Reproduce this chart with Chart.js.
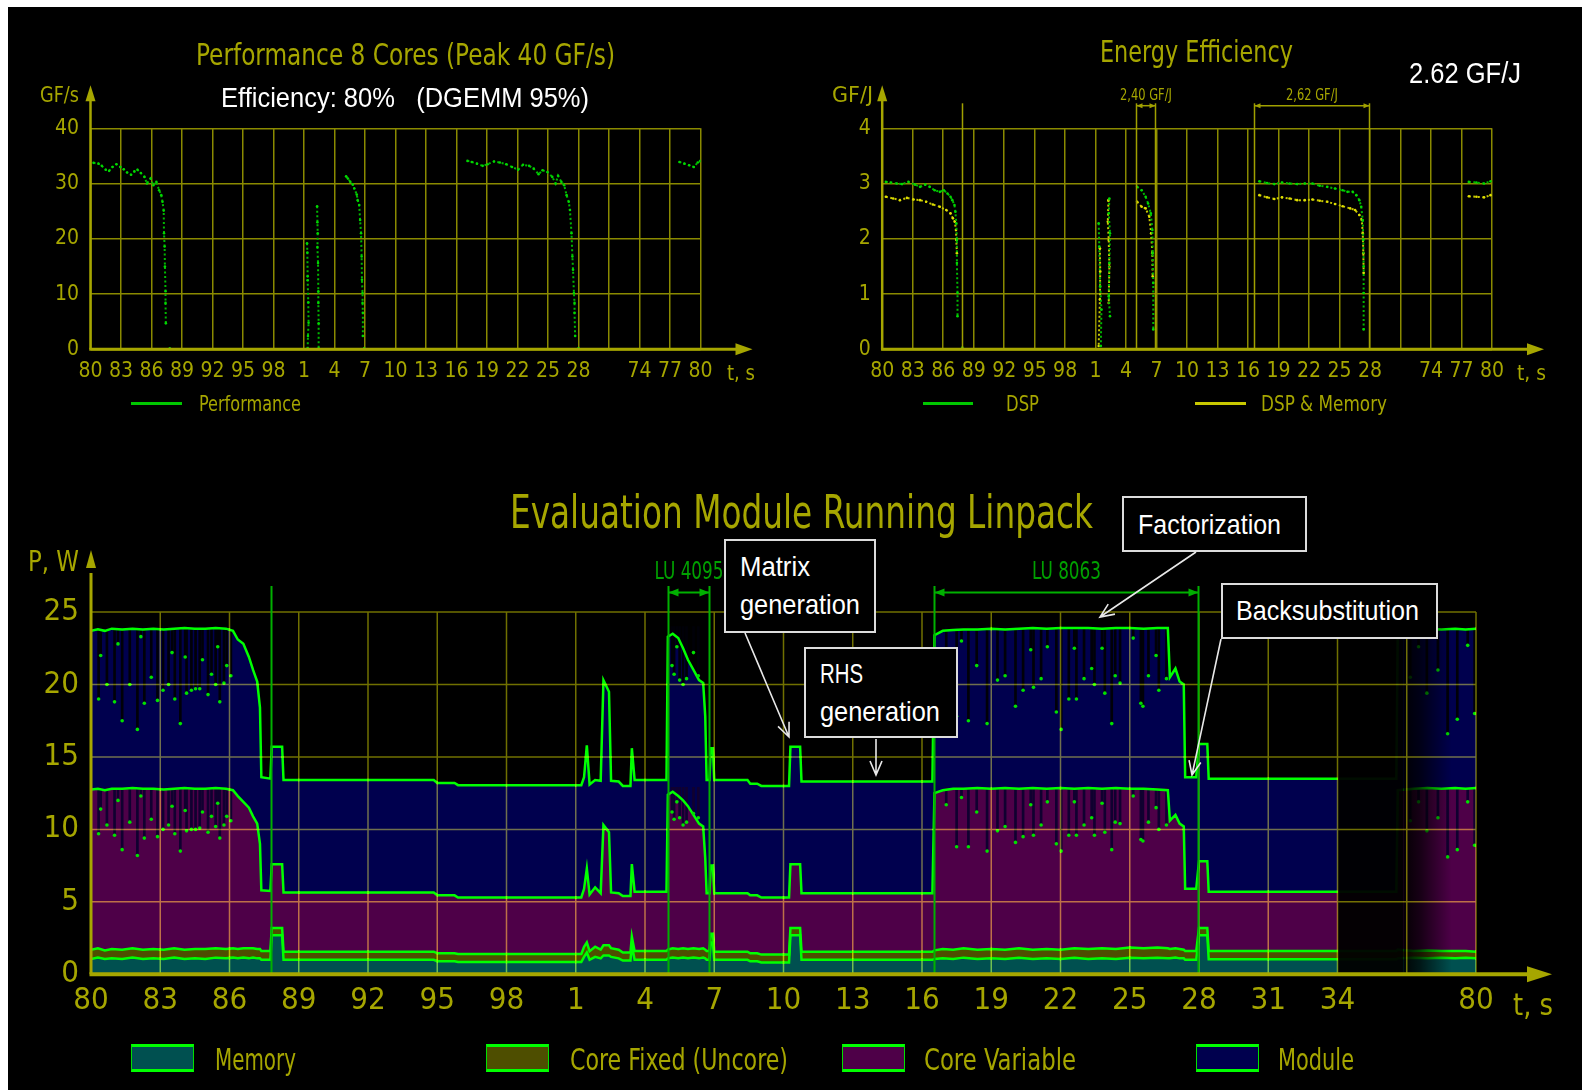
<!DOCTYPE html>
<html>
<head>
<meta charset="utf-8">
<script src="https://cdn.jsdelivr.net/npm/chart.js@4.4.1/dist/chart.umd.min.js"></script>
<style>
html,body{margin:0;padding:0;background:#fff;}
body{position:relative;width:1582px;height:1092px;overflow:hidden;}
#frame{position:absolute;left:8px;top:7px;width:1574px;height:1083px;background:#000;}
canvas{position:absolute;}
.t{position:absolute;white-space:pre;line-height:1;transform-origin:0 50%;}
.o{color:#a6a600;font-family:"DejaVu Sans Condensed","DejaVu Sans",sans-serif;}
.w{color:#fff;font-family:"Liberation Sans Narrow","Liberation Sans",Arial,sans-serif;}
.box{position:absolute;border:2px solid #dcdcdc;background:#000;box-sizing:border-box;}
.lg{position:absolute;box-sizing:border-box;border:1px solid #00e000;border-top:3px solid #00ff00;border-bottom:3px solid #00ff00;}
.ln{position:absolute;height:3px;}
svg{position:absolute;left:0;top:0;}
</style>
</head>
<body>
<div id="frame"></div>
<script>
// ---------------- DATA ----------------
const TOP_X_LABELS = ['80','83','86','89','92','95','98','1','4','7','10','13','16','19','22','25','28','','74','77','80'];
const BOTTOM_X_LABELS = ['80','83','86','89','92','95','98','1','4','7','10','13','16','19','22','25','28','31','34','','80'];

// Performance (GF/s); x in tick-index units; null = gap
const perfT = [0.10,0.26,0.37,0.50,0.61,0.72,0.85,0.98,1.09,1.20,1.33,1.44,1.54,1.65,1.77,1.85,1.97,2.06,2.16,2.25,2.32,2.36,2.40,2.41,2.43,2.44,2.46,2.46,2.47,null,
  2.60,null,
  7.10,7.11,7.12,7.12,7.14,7.15,7.13,7.12,null,
  7.43,7.44,7.45,7.44,7.46,7.47,7.47,7.48,7.48,null,
  8.38,8.44,8.52,8.60,8.65,8.73,8.76,8.81,8.84,8.87,8.89,8.90,8.92,8.92,8.93,8.93,null,
  8.97,null,
  12.36,12.50,12.67,12.86,13.02,13.23,13.42,13.63,13.82,14.02,14.18,14.38,14.53,14.69,14.82,14.98,15.14,15.25,15.33,15.44,15.53,15.61,15.68,15.72,15.77,15.80,15.82,15.85,15.87,15.87,15.89,null,
  16.00,null,
  19.31,19.47,19.63,19.78,19.91,20.00];
const perfV = [33.75,33.6,33.2,32.5,32.3,33.0,33.5,33.0,32.6,32.0,31.6,32.2,32.5,31.9,31.2,30.0,30.9,29.7,30.3,28.8,27.9,26.7,25.1,21.0,18.6,15.0,10.5,8.4,4.7,null,
  0.2,null,
  19.2,17.5,13.2,12.5,8.5,4.8,2.4,0.2,null,
  25.9,23.0,21.0,18.5,15.6,10.5,8.4,4.7,0.2,null,
  31.3,30.9,30.3,29.8,29.1,28.0,27.0,26.1,23.4,21.0,16.8,12.6,10.2,8.4,6.6,2.4,null,
  0.2,null,
  34.1,33.9,33.6,33.2,33.5,34.0,33.8,33.5,33.0,32.5,33.4,33.2,32.7,31.7,32.4,32.1,31.2,30.0,31.4,30.3,29.7,27.9,26.7,25.2,21.0,16.8,14.4,10.2,8.4,6.6,2.4,null,
  0.2,null,
  33.9,33.6,33.3,33.0,33.8,34.1];

// Energy efficiency (GF/J)
const dspT = [0.12,0.28,0.48,0.65,0.86,1.08,1.24,1.41,1.56,1.72,1.89,2.02,2.14,2.24,2.30,2.37,2.40,2.43,2.45,2.45,2.47,2.47,null,
  2.63,null,
  7.10,7.12,7.15,7.19,7.17,null,
  7.45,7.43,7.47,7.45,7.43,7.47,null,
  8.36,8.51,8.64,8.72,8.81,8.86,8.87,8.89,8.89,null,
  12.37,12.62,12.86,13.11,13.36,13.61,13.86,14.11,14.35,14.60,14.85,15.10,15.26,15.43,15.55,15.65,15.71,15.76,15.78,15.79,15.79,15.79,null,
  19.24,19.49,19.74,19.95];
const dspV = [3.03,3.02,3.00,2.99,3.03,2.98,2.94,2.98,2.94,2.88,2.85,2.88,2.82,2.76,2.70,2.61,2.49,2.28,1.98,1.56,1.02,0.60,null,
  0.03,null,
  2.28,1.86,1.14,0.72,0.06,null,
  2.73,2.46,2.10,1.56,0.96,0.60,null,
  2.94,2.88,2.76,2.64,2.46,2.16,1.74,1.20,0.36,null,
  3.04,3.01,2.99,3.02,3.00,2.99,3.00,3.00,2.96,2.94,2.91,2.88,2.85,2.85,2.79,2.70,2.58,2.34,1.98,1.50,1.02,0.36,null,
  3.03,3.02,3.00,3.04];
const dspMemT = [0.12,0.36,0.58,0.81,1.03,1.24,1.44,1.66,1.89,2.10,2.24,2.32,2.38,2.42,2.43,2.45,null,
  7.14,7.15,7.14,7.10,null,
  7.42,7.40,7.43,7.45,7.43,null,
  8.36,8.51,8.64,8.76,8.82,8.86,8.87,null,
  12.37,12.62,12.86,13.11,13.36,13.61,13.86,14.11,14.35,14.60,14.85,15.10,15.35,15.51,15.65,15.73,15.76,15.78,15.79,null,
  19.24,19.49,19.74,19.95];
const dspMemV = [2.76,2.73,2.70,2.74,2.71,2.70,2.67,2.62,2.58,2.52,2.46,2.37,2.31,2.16,1.98,1.74,null,
  1.83,1.41,0.90,0.06,null,
  2.70,2.31,1.98,1.50,0.84,null,
  2.67,2.58,2.55,2.40,2.10,1.74,1.32,null,
  2.79,2.75,2.72,2.75,2.73,2.70,2.70,2.71,2.69,2.67,2.63,2.59,2.55,2.52,2.43,2.34,2.10,1.74,1.38,null,
  2.77,2.76,2.75,2.79];

// Power (W): upper boundary of each stacked layer
const tB   = [0.00,0.10,0.20,0.30,0.45,0.60,0.75,0.90,1.05,1.20,1.35,1.50,1.65,1.80,1.95,2.05,2.12,2.20,2.28,2.34,2.40,2.44,2.46,2.59,
  2.61,2.76,2.78,4.95,5.00,5.25,5.30,7.08,7.12,7.16,7.20,7.28,7.36,7.40,7.48,7.51,7.62,7.68,7.79,7.81,7.85,8.31,
  8.33,8.40,8.48,8.55,8.62,8.70,8.78,8.84,8.87,8.89,8.93,8.95,8.98,9.00,9.48,9.52,9.62,9.68,10.08,10.10,10.24,10.26,12.15,
  12.18,12.30,12.45,12.60,12.80,13.00,13.20,13.40,13.60,13.80,14.00,14.20,14.40,14.60,14.80,15.00,15.20,15.40,15.55,
  15.58,15.66,15.72,15.78,15.80,15.96,16.00,16.12,16.14,18.85,
  18.87,19.10,19.30,19.50,19.70,19.85,20.00];
const memB = [1.05,1.15,1.05,1.10,1.05,1.15,1.05,1.10,1.05,1.15,1.05,1.10,1.05,1.15,1.10,1.15,1.10,1.15,1.10,1.15,1.10,1.10,1.00,1.00,
  2.7,2.7,1.0,1.0,0.9,0.9,0.85,0.85,1.2,1.5,1.0,1.2,1.1,1.3,1.3,1.2,1.1,0.95,0.95,2.0,1.0,1.0,
  1.1,1.15,1.1,1.15,1.1,1.15,1.1,1.15,1.1,1.0,1.0,2.2,2.2,1.0,1.0,0.9,0.9,0.82,0.82,2.7,2.7,1.0,1.0,
  1.05,1.1,1.05,1.15,1.05,1.1,1.05,1.15,1.05,1.1,1.05,1.15,1.05,1.1,1.05,1.15,1.1,1.15,1.1,
  1.1,1.15,1.1,1.1,1.0,1.0,2.7,2.7,1.03,1.03,
  1.1,1.15,1.1,1.15,1.1,1.15,1.1];
const fixB = [1.70,1.80,1.65,1.75,1.70,1.80,1.70,1.75,1.70,1.80,1.70,1.75,1.75,1.80,1.75,1.80,1.75,1.80,1.80,1.80,1.75,1.75,1.60,1.60,
  3.2,3.2,1.56,1.56,1.45,1.45,1.4,1.4,1.9,2.2,1.6,1.9,1.7,2.0,2.0,1.8,1.7,1.5,1.5,2.6,1.6,1.6,
  1.7,1.8,1.75,1.8,1.75,1.8,1.75,1.8,1.7,1.6,1.6,2.8,2.8,1.56,1.56,1.45,1.45,1.36,1.36,3.2,3.2,1.56,1.56,
  1.65,1.75,1.7,1.8,1.7,1.75,1.7,1.8,1.7,1.75,1.7,1.8,1.75,1.8,1.75,1.85,1.8,1.85,1.8,
  1.75,1.8,1.75,1.7,1.6,1.6,3.2,3.2,1.6,1.6,
  1.7,1.6,1.65,1.6,1.6,1.6,1.56];
const varB = [12.75,12.8,12.7,12.8,12.8,12.85,12.8,12.8,12.75,12.8,12.85,12.8,12.8,12.85,12.8,12.7,12.3,11.9,11.5,10.9,10.4,9.0,5.8,5.75,
  7.6,7.6,5.65,5.65,5.45,5.45,5.3,5.3,5.9,7.3,5.5,6.0,5.6,10.3,9.8,5.65,5.6,5.4,5.4,7.6,5.7,5.7,
  12.4,12.6,12.3,12.0,11.6,11.0,10.4,10.2,8.0,5.6,5.6,7.5,7.5,5.6,5.6,5.45,5.45,5.3,5.3,7.6,7.6,5.6,5.6,
  12.5,12.7,12.8,12.8,12.85,12.8,12.85,12.8,12.85,12.8,12.85,12.8,12.85,12.8,12.85,12.8,12.8,12.75,12.7,
  10.6,11.0,10.4,10.2,5.9,5.9,7.8,7.8,5.7,5.7,
  12.7,12.8,12.85,12.8,12.85,12.8,12.85];
const modB = [23.7,23.8,23.7,23.85,23.8,23.85,23.8,23.85,23.8,23.85,23.9,23.85,23.85,23.9,23.85,23.7,23.1,22.8,21.9,21.0,20.2,18.4,13.6,13.5,
  15.7,15.7,13.4,13.4,13.2,13.2,13.05,13.05,13.6,15.8,13.1,13.4,13.35,20.3,19.5,13.35,13.3,13.0,13.0,15.6,13.4,13.4,
  23.3,23.5,23.2,22.5,21.7,21.0,20.3,20.1,17.8,13.4,13.4,15.6,15.6,13.4,13.4,13.15,13.15,13.0,13.0,15.7,15.7,13.3,13.3,
  23.4,23.7,23.75,23.8,23.8,23.85,23.8,23.85,23.9,23.85,23.9,23.9,23.9,23.85,23.9,23.9,23.85,23.9,23.9,
  20.5,21.1,20.2,20.0,13.6,13.6,15.9,15.9,13.5,13.5,
  23.7,23.8,23.85,23.8,23.85,23.8,23.85];

// Short power drops during the runs (time, module level, core-variable level)
const dipT = [0.11,0.14,0.23,0.34,0.39,0.45,0.56,0.67,0.72,0.77,0.87,0.96,1.04,1.12,1.17,1.21,1.29,1.36,1.38,1.45,1.51,1.57,1.61,1.69,1.74,1.80,1.83,1.86,1.92,1.96,2.02,
  8.39,8.42,8.46,8.50,8.55,8.60,8.70,8.77,
  12.35,12.50,12.57,12.67,12.79,12.94,13.09,13.20,13.35,13.46,13.57,13.61,13.72,13.81,13.94,14.01,14.12,14.20,14.23,14.34,14.45,14.49,14.60,14.64,14.74,14.79,14.86,15.05,15.16,15.19,15.27,15.38,15.42,15.53,
  19.05,19.17,19.29,19.45,19.59,19.73,19.88,19.98];
const dipMod = [19.0,22.0,20.0,18.8,22.8,17.5,20.0,16.9,23.3,18.7,20.5,18.9,19.6,20.0,22.2,19.0,17.3,21.9,19.4,19.6,19.7,19.7,21.7,19.3,20.7,20.0,22.6,18.8,20.1,21.3,20.6,
  21.3,20.7,22.6,20.3,20.0,20.4,22.2,20.6,
  22.2,17.8,23.0,17.5,21.3,17.3,20.3,20.6,18.5,19.6,22.4,19.8,20.4,22.6,18.1,16.9,19.0,22.5,19.0,20.4,21.1,20.0,22.5,19.4,17.3,20.6,20.1,23.2,18.7,18.5,20.6,22.0,19.6,20.4,
  20.5,22.6,19.4,21.0,16.6,17.6,22.7,18.0];
const dipCore = [9.7,11.4,10.3,9.6,12.0,8.6,10.5,8.2,12.3,9.4,10.7,9.5,10.0,10.3,11.6,9.7,8.5,11.3,9.9,10.0,10.0,10.1,11.2,9.8,10.9,10.2,11.8,9.4,10.3,10.9,10.6,
  11.2,10.7,11.9,10.8,10.3,10.5,11.1,10.8,
  11.7,8.8,12.2,8.8,11.2,8.5,9.9,10.2,9.1,9.5,11.7,9.6,10.3,11.9,9.0,8.5,9.6,11.9,9.6,10.3,10.8,9.6,11.8,9.8,8.6,10.5,10.4,12.3,9.3,9.2,10.5,11.5,10.0,10.3,
  10.6,11.9,9.9,10.8,8.1,8.6,11.9,8.9];
const MOD_CEIL = 24.0, CORE_CEIL = 12.9;

// ---------------- STYLE ----------------
const OLIVE = '#a6a600';
const TICK_FONT = '"Liberation Sans Narrow","DejaVu Sans Condensed","DejaVu Sans",sans-serif';
const pts = (T, V) => T.map((t, i) => ({x: t, y: V[i]}));

function mkCanvas(left, top, w, h) {
  const c = document.createElement('canvas');
  c.width = w; c.height = h;
  c.style.left = left + 'px'; c.style.top = top + 'px';
  c.style.width = w + 'px'; c.style.height = h + 'px';
  document.body.appendChild(c);
  return c;
}

function arrowHead(ctx, x, y, dx, dy, L, W) {
  ctx.beginPath();
  ctx.moveTo(x, y);
  ctx.lineTo(x - dx * L - dy * W, y - dy * L + dx * W);
  ctx.lineTo(x - dx * L + dy * W, y - dy * L - dx * W);
  ctx.closePath();
  ctx.fill();
}

const decor = {
  id: 'decor',
  afterDatasetsDraw(chart, args, o) {
    const {ctx, chartArea: a, scales: {x, y}} = chart;
    if (o.fade) {
      const x0 = x.getPixelForValue(o.fade[0]), x1 = x.getPixelForValue(o.fade[1]), x2 = x.getPixelForValue(o.fade[2]);
      ctx.save();
      ctx.fillStyle = 'rgba(0,0,0,0.95)';
      ctx.fillRect(x0, a.top - 2, x1 - x0, a.bottom - a.top + 2);
      const g = ctx.createLinearGradient(x1, 0, x2, 0);
      g.addColorStop(0, 'rgba(0,0,0,0.95)');
      g.addColorStop(0.35, 'rgba(0,0,0,0.7)');
      g.addColorStop(1, 'rgba(0,0,0,0)');
      ctx.fillStyle = g;
      ctx.fillRect(x1, a.top - 2, x2 - x1, a.bottom - a.top + 2);
      ctx.restore();
    }
    if (o.grid) {
      ctx.save();
      ctx.globalCompositeOperation = 'lighter';
      ctx.strokeStyle = o.grid.color; ctx.lineWidth = o.grid.width;
      ctx.beginPath();
      x.ticks.forEach(t => { const px = x.getPixelForValue(t.value); ctx.moveTo(px, a.top); ctx.lineTo(px, a.bottom); });
      y.ticks.forEach(t => { const py = y.getPixelForValue(t.value); ctx.moveTo(a.left, py); ctx.lineTo(a.right, py); });
      ctx.stroke();
      ctx.restore();
    }
  },
  afterDraw(chart, args, o) {
    const {ctx, chartArea: a, scales: {x}} = chart;
    ctx.save();
    if (o.markers) {
      const m = o.markers;
      ctx.strokeStyle = m.color; ctx.lineWidth = m.width;
      m.xs.forEach(v => {
        const px = Math.round(x.getPixelForValue(v)) + 0.5;
        ctx.beginPath(); ctx.moveTo(px, a.top - m.top); ctx.lineTo(px, a.bottom); ctx.stroke();
      });
      (m.spans || []).forEach(s => {
        const pa = Math.round(x.getPixelForValue(s.a)) + 0.5, pb = Math.round(x.getPixelForValue(s.b)) + 0.5;
        const py = a.top - m.spanOff;
        ctx.strokeStyle = m.color; ctx.fillStyle = m.color; ctx.lineWidth = m.spanWidth;
        ctx.beginPath(); ctx.moveTo(pa, py); ctx.lineTo(pb, py); ctx.stroke();
        arrowHead(ctx, pa, py, -1, 0, m.headL, m.headW);
        arrowHead(ctx, pb, py, 1, 0, m.headL, m.headW);
        ctx.save();
        ctx.font = m.font; ctx.fillStyle = m.textColor;
        ctx.textAlign = 'center'; ctx.textBaseline = 'middle';
        ctx.translate((pa + pb) / 2, a.top - m.labelOff);
        ctx.scale(m.textScale, 1);
        ctx.fillText(s.label, 0, 0);
        ctx.restore();
      });
    }
    if (o.axis) {
      const ax = o.axis;
      ctx.strokeStyle = ax.color; ctx.fillStyle = ax.color;
      ctx.lineWidth = ax.xw;
      const tipX = a.right + ax.xExt;
      ctx.beginPath(); ctx.moveTo(a.left - ax.yw / 2, a.bottom); ctx.lineTo(tipX - ax.headL + 2, a.bottom); ctx.stroke();
      arrowHead(ctx, tipX, a.bottom, 1, 0, ax.headL, ax.headW);
      ctx.lineWidth = ax.yw;
      const tipY = a.top - ax.yExt;
      ctx.beginPath(); ctx.moveTo(a.left, a.bottom); ctx.lineTo(a.left, tipY + ax.headL - 2); ctx.stroke();
      arrowHead(ctx, a.left, tipY, 0, -1, ax.yHeadL, ax.yHeadW);
    }
    ctx.restore();
  }
};

function scalesFor(cfg) {
  return {
    x: {
      type: 'linear', min: 0, max: 20, offset: false,
      afterFit: s => { s.height = cfg.xh; },
      ticks: { stepSize: 1, autoSkip: false, maxRotation: 0, padding: cfg.xpad, color: OLIVE,
               font: { family: TICK_FONT, size: cfg.fs }, callback: v => cfg.labels[Math.round(v)] ?? '' },
      grid: cfg.grid ? { color: cfg.grid, lineWidth: 1.5, drawTicks: false, offset: false } : { display: false, drawTicks: false },
      border: { display: false }
    },
    y: {
      min: 0, max: cfg.ymax,
      afterFit: s => { s.width = cfg.yw; },
      ticks: { stepSize: cfg.ystep, padding: cfg.ypad, color: OLIVE, font: { family: TICK_FONT, size: cfg.fs } },
      grid: cfg.grid ? { color: cfg.grid, lineWidth: 1.5, drawTicks: false } : { display: false, drawTicks: false },
      border: { display: false }
    }
  };
}

const baseOpts = { responsive: false, animation: false, devicePixelRatio: 1, events: [] };

function dotted(data, color, pointColor) {
  return { type: 'line', data, borderColor: color, borderWidth: 2, borderDash: [2, 2.5], pointRadius: 1.3,
           pointBorderWidth: 0, pointBackgroundColor: pointColor, fill: false, spanGaps: false, tension: 0 };
}

// ---------- Top-left: performance ----------
new Chart(mkCanvas(0, 0, 790, 430), {
  type: 'line',
  data: { datasets: [ dotted(pts(perfT, perfV), '#00b800', '#00d800') ] },
  options: Object.assign({}, baseOpts, {
    layout: { padding: { left: 0, top: 128.3, right: 89.5, bottom: 40.7 } },
    plugins: { legend: { display: false }, tooltip: { enabled: false },
      decor: { axis: { color: OLIVE, xw: 3, yw: 2.5, xExt: 52, yExt: 43, headL: 17, headW: 6, yHeadL: 16, yHeadW: 5 } } },
    scales: scalesFor({ labels: TOP_X_LABELS, xh: 40, xpad: 10, fs: 21, grid: '#8a8a00', ymax: 40, ystep: 10, yw: 90.5, ypad: 11.5 })
  }),
  plugins: [decor]
});

// ---------- Top-right: energy efficiency ----------
new Chart(mkCanvas(790, 0, 792, 430), {
  type: 'line',
  data: { datasets: [
    dotted(pts(dspT, dspV), '#00b800', '#00d800'),
    dotted(pts(dspMemT, dspMemV), '#c8c800', '#dede00')
  ] },
  options: Object.assign({}, baseOpts, {
    layout: { padding: { left: 0, top: 128.3, right: 90, bottom: 40.7 } },
    plugins: { legend: { display: false }, tooltip: { enabled: false },
      decor: {
        axis: { color: OLIVE, xw: 3, yw: 2.5, xExt: 52, yExt: 43, headL: 17, headW: 6, yHeadL: 16, yHeadW: 5 },
        markers: { xs: [2.61, 8.33, 8.94, 12.18, 15.97], color: '#a0a000', width: 1.5, top: 25,
          spans: [ { a: 8.33, b: 8.94, label: '2,40 GF/J' }, { a: 12.18, b: 15.97, label: '2,62 GF/J' } ],
          spanOff: 22.6, spanWidth: 1.5, headL: 6, headW: 2.5, labelOff: 32, textColor: '#a6a600',
          font: '15px "DejaVu Sans Condensed","DejaVu Sans",sans-serif', textScale: 0.85 }
      } },
    scales: scalesFor({ labels: TOP_X_LABELS, xh: 40, xpad: 10, fs: 21, grid: '#8a8a00', ymax: 4, ystep: 1, yw: 92.2, ypad: 11.5 })
  }),
  plugins: [decor]
});

// ---------- Bottom: power breakdown ----------
const GREEN = '#00ff00';
function layer(V, bg, fill) {
  return { type: 'line', data: pts(tB, V), borderColor: GREEN, borderWidth: 2.5, backgroundColor: bg,
           fill, pointRadius: 0, tension: 0, order: 2 };
}
new Chart(mkCanvas(0, 440, 1582, 652), {
  type: 'line',
  data: { datasets: [
    layer(memB, '#005050', 'origin'),
    layer(fixB, '#4e4e00', '-1'),
    layer(varB, '#4e0048', '-1'),
    layer(modB, '#00004e', '-1'),
    { type: 'bar', data: dipT.map((t, i) => ({ x: t, y: [dipMod[i], MOD_CEIL] })), backgroundColor: '#000008',
      barThickness: 2, grouped: false, order: 3 },
    { type: 'bar', data: dipT.map((t, i) => ({ x: t, y: [dipCore[i], CORE_CEIL] })), backgroundColor: '#100030',
      barThickness: 2, grouped: false, order: 3 },
    { type: 'line', data: pts(dipT, dipMod), showLine: false, pointRadius: 1.8, pointBorderWidth: 0,
      pointBackgroundColor: '#00e000', order: 1 },
    { type: 'line', data: pts(dipT, dipCore), showLine: false, pointRadius: 1.8, pointBorderWidth: 0,
      pointBackgroundColor: '#00e000', order: 1 }
  ] },
  options: Object.assign({}, baseOpts, {
    layout: { padding: { left: 0, top: 172, right: 106, bottom: 67.7 } },
    plugins: { legend: { display: false }, tooltip: { enabled: false },
      filler: { drawTime: 'beforeDatasetsDraw' },
      decor: {
        fade: [18.0, 18.95, 19.65],
        grid: { color: '#707000', width: 1.5 },
        axis: { color: OLIVE, xw: 4, yw: 3, xExt: 76, yExt: 62, headL: 25, headW: 8, yHeadL: 18, yHeadW: 5 },
        markers: { xs: [2.6, 8.33, 8.93, 12.17, 15.98], color: '#00b000', width: 2, top: 26,
          spans: [ { a: 8.33, b: 8.93, label: 'LU 4095' }, { a: 12.17, b: 15.98, label: 'LU 8063' } ],
          spanOff: 19.5, spanWidth: 2, headL: 10, headW: 4, labelOff: 39, textColor: '#00a000',
          font: '24px "DejaVu Sans Condensed","DejaVu Sans",sans-serif', textScale: 0.78 }
      } },
    scales: scalesFor({ labels: BOTTOM_X_LABELS, xh: 50, xpad: 8.5, fs: 31, grid: null, ymax: 25, ystep: 5, yw: 91, ypad: 12 })
  }),
  plugins: [decor]
});

// ---------------- TEXT ----------------
function label(text, cls, size, x, yc, w) {
  const d = document.createElement('div');
  d.className = 't ' + cls;
  d.textContent = text;
  d.style.fontSize = size + 'px';
  d.style.left = x + 'px';
  d.style.top = (yc - size / 2) + 'px';
  document.body.appendChild(d);
  if (w) {
    const aw = d.getBoundingClientRect().width;
    d.style.transform = 'scaleX(' + (w / aw).toFixed(4) + ')';
  }
  return d;
}
function hline(x, y, w, color) {
  const d = document.createElement('div');
  d.className = 'ln';
  d.style.left = x + 'px'; d.style.top = (y - 1.5) + 'px'; d.style.width = w + 'px'; d.style.background = color;
  document.body.appendChild(d);
}
function box(x, y, w, h) {
  const d = document.createElement('div');
  d.className = 'box';
  d.style.left = x + 'px'; d.style.top = y + 'px'; d.style.width = w + 'px'; d.style.height = h + 'px';
  document.body.appendChild(d);
}
function legendBox(x, color) {
  const d = document.createElement('div');
  d.className = 'lg';
  d.style.left = x + 'px'; d.style.top = '1044px'; d.style.width = '63px'; d.style.height = '28px'; d.style.background = color;
  document.body.appendChild(d);
}

// top-left
label('Performance 8 Cores (Peak 40 GF/s)', 'o', 31, 196, 54, 419);
label('Efficiency: 80%   (DGEMM 95%)', 'w', 28, 221, 98, 368);
label('GF/s', 'o', 21, 40, 95, 39);
label('t, s', 'o', 21, 727, 373, 28);
hline(131, 403, 51, '#00c800');
label('Performance', 'o', 21, 199, 404, 102);
// top-right
label('Energy Efficiency', 'o', 31, 1100, 51, 193);
label('2.62 GF/J', 'w', 30, 1409, 73, 112);
label('GF/J', 'o', 21, 832, 95, 41);
label('t, s', 'o', 21, 1517, 373, 29);
hline(923, 403, 50, '#00c800');
label('DSP', 'o', 21, 1006, 404, 33);
hline(1195, 403, 51, '#c8c800');
label('DSP & Memory', 'o', 21, 1261, 404, 126);
// bottom
label('Evaluation Module Running Linpack', 'o', 47, 510, 511, 583);
label('P, W', 'o', 28, 28, 562, 51);
label('t, s', 'o', 31, 1513, 1004, 40);
legendBox(131, '#005050'); label('Memory', 'o', 31, 215, 1059, 81);
legendBox(486, '#4e4e00'); label('Core Fixed (Uncore)', 'o', 31, 570, 1059, 218);
legendBox(842, '#4e0048'); label('Core Variable', 'o', 31, 924, 1059, 152);
legendBox(1196, '#00004e'); label('Module', 'o', 31, 1278, 1059, 76);

// annotation boxes
box(724, 539, 152, 94); label('Matrix', 'w', 28, 740, 567, 70); label('generation', 'w', 28, 740, 605, 120);
box(804, 647, 154, 91); label('RHS', 'w', 28, 820, 674, 43); label('generation', 'w', 28, 820, 712, 120);
box(1122, 496, 185, 56); label('Factorization', 'w', 28, 1138, 525, 143);
box(1221, 583, 217, 56); label('Backsubstitution', 'w', 28, 1236, 611, 183);

// annotation arrows
const NS = 'http://www.w3.org/2000/svg';
const svg = document.createElementNS(NS, 'svg');
svg.setAttribute('width', '1582'); svg.setAttribute('height', '1092');
document.body.appendChild(svg);
function svgArrow(x1, y1, x2, y2) {
  const dx = x2 - x1, dy = y2 - y1, L = Math.hypot(dx, dy), ux = dx / L, uy = dy / L;
  const h = 14, w = 6;
  const p = document.createElementNS(NS, 'path');
  const ax = x2 - ux * h - uy * w, ay = y2 - uy * h + ux * w;
  const bx = x2 - ux * h + uy * w, by = y2 - uy * h - ux * w;
  p.setAttribute('d', `M${x1},${y1} L${x2},${y2} M${ax},${ay} L${x2},${y2} L${bx},${by}`);
  p.setAttribute('stroke', '#e8e8e8'); p.setAttribute('stroke-width', '1.6'); p.setAttribute('fill', 'none');
  svg.appendChild(p);
}
svgArrow(745, 633, 789, 737);
svgArrow(876, 739, 876, 775);
svgArrow(1196, 552, 1100, 617);
svgArrow(1221, 639, 1192, 775);
</script>
</body>
</html>
